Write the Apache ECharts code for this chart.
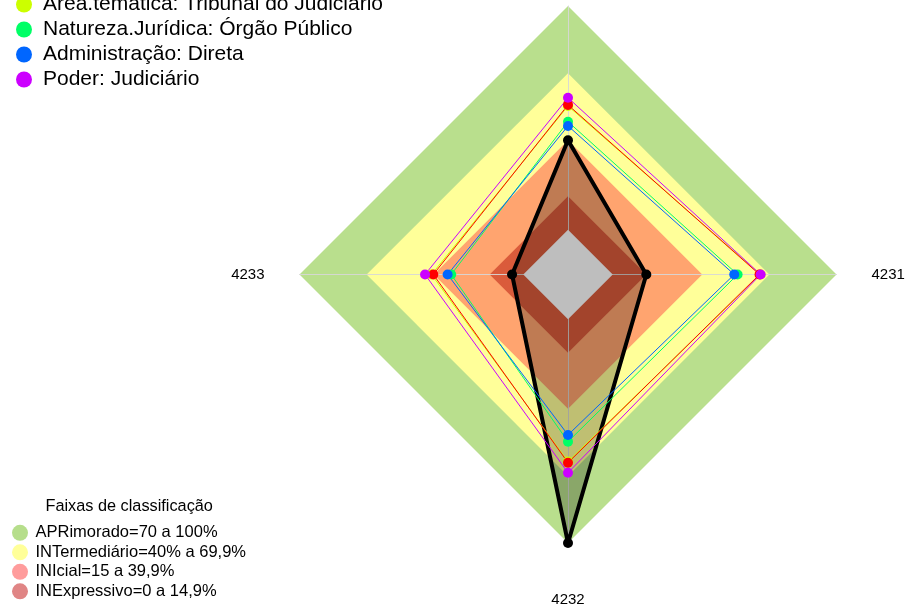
<!DOCTYPE html>
<html><head><meta charset="utf-8">
<script src="https://cdn.jsdelivr.net/npm/echarts@6/dist/echarts.min.js"></script>
<style>html,body{margin:0;padding:0;background:#fff}#c{width:909px;height:607px}</style>
</head><body><div id="c"></div>
<script>
// Indicators, counter-clockwise starting at the top
const indicators = ['4234', '4233', '4232', '4231'];
const axisMin = -20, axisMax = 100;

// Series (values in indicator order: top, left, bottom, right)
const seriesNames = ['Órgão', 'Área.temática: Tribunal do Judiciário', 'Natureza.Jurídica: Órgão Público', 'Administração: Direta', 'Poder: Judiciário'];
const seriesColors = ['#FF0000', '#CCFF00', '#00FF66', '#0066FF', '#CC00FF'];
const redValues    = [55.8, 40.2, 64.1, 65.6];
const areaValues   = [55.3, 41.0, 63.6, 66.0];
const naturValues  = [48.3, 32.2, 54.7, 55.8];
const adminValues  = [46.4, 33.8, 51.7, 54.3];
const poderValues  = [59.0, 43.9, 68.6, 66.1];
const orgaoName = 'Órgão avaliado';
const orgaoValues  = [40, 5, 100, 15];

// Classification bands (upper limit of each band on every axis)
const bandTitle = 'Faixas de classificação';
const bandNames = ['APRimorado=70 a 100%', 'INTermediário=40% a 69,9%', 'INIcial=15 a 39,9%', 'INExpressivo=0 a 14,9%'];
const bandUpper = [100, 70, 40, 15];
const bandFill = ['#B9DF8D', '#FFFF99', '#FFA46F', '#DA5B3B'];
const bandLegend = ['#B6DE8B', '#FFFF99', '#FF9C9C', '#E08585'];
const belowZeroFill = '#BEBEBE';
const zeroLevel = 0;

const FONT = '"Liberation Sans", Arial, sans-serif';
const ind = indicators.map(n => ({ name: n, min: axisMin, max: axisMax }));
const center = [568, 274.5], radius = 268.5;

const valueSeries = [
  { name: seriesNames[1], values: areaValues, color: seriesColors[1] },
  { name: seriesNames[0], values: redValues, color: seriesColors[0] },
  { name: seriesNames[2], values: naturValues, color: seriesColors[2] },
  { name: seriesNames[3], values: adminValues, color: seriesColors[3] },
  { name: seriesNames[4], values: poderValues, color: seriesColors[4] }
];

const series = [];
// classification bands (outer first)
bandNames.forEach((n, i) => series.push({
  type: 'radar', name: n, z: 1, symbol: 'none', silent: true,
  itemStyle: { color: bandLegend[i] },
  lineStyle: { width: 0 },
  areaStyle: { color: bandFill[i], opacity: 1 },
  data: [{ value: indicators.map(() => bandUpper[i]), name: n }]
}));
// main entity
series.push({
  type: 'radar', name: orgaoName, z: 3, symbol: 'circle', symbolSize: 10,
  itemStyle: { color: '#000' },
  lineStyle: { color: '#000', width: 4 },
  areaStyle: { color: 'rgba(0,0,0,0.25)', opacity: 1 },
  data: [{ value: orgaoValues, name: orgaoName }], silent: true
});
valueSeries.forEach(s => series.push({
  type: 'radar', name: s.name, z: 3, symbol: 'circle', symbolSize: 10,
  itemStyle: { color: s.color },
  lineStyle: { color: s.color, width: 1 },
  data: [{ value: s.values, name: s.name }], silent: true
}));
// below-zero centre drawn on top
series.push({
  type: 'radar', name: 'abaixo de zero', z: 3, symbol: 'none',
  lineStyle: { width: 0 },
  areaStyle: { color: belowZeroFill, opacity: 1 },
  data: [{ value: indicators.map(() => zeroLevel) }], silent: true
});

const chart = echarts.init(document.getElementById('c'), null, { renderer: 'canvas' });
chart.setOption({
  backgroundColor: '#fff',
  animation: false,
  textStyle: { fontFamily: FONT },
  title: {
    text: bandTitle, left: 45.5, top: 499, padding: 0,
    textStyle: { fontFamily: FONT, fontSize: 16.3, fontWeight: 'normal', color: '#000' }
  },
  legend: [
    {
      data: seriesNames.slice(1), orient: 'vertical', left: 11, top: -11,
      icon: 'circle', itemWidth: 28, itemHeight: 16, itemGap: 4,
      itemStyle: { borderWidth: 0 },
      textStyle: { fontFamily: FONT, fontSize: 21, lineHeight: 21, color: '#000' },
      selectedMode: false
    },
    {
      data: bandNames, orient: 'vertical', left: 12, top: 524.3, padding: 0,
      icon: 'circle', itemWidth: 21, itemHeight: 16, itemGap: 2.5,
      itemStyle: { borderWidth: 0 },
      textStyle: { fontFamily: FONT, fontSize: 16.5, lineHeight: 16, color: '#000' },
      selectedMode: false
    }
  ],
  radar: [
    {
      center: center, radius: radius, startAngle: 90, shape: 'polygon',
      splitNumber: 4, indicator: ind, nameGap: 35,
      axisName: {
        color: '#000', fontSize: 15, fontFamily: FONT,
        formatter: v => v === '4232' ? '{b|' + v + '}' : v,
        rich: { b: { padding: [14, 0, 0, 0], fontSize: 15, color: '#000', fontFamily: FONT } }
      },
      splitLine: { show: false }, splitArea: { show: false },
      axisLine: { show: false }, axisTick: { show: false }, axisLabel: { show: false }
    },
    {
      center: center, radius: radius, startAngle: 90, shape: 'polygon', z: 2,
      splitNumber: 4, indicator: ind,
      axisName: { show: false },
      splitLine: { show: false }, splitArea: { show: false },
      axisLine: { show: true, lineStyle: { color: 'rgba(215,215,215,0.9)', width: 1 } },
      axisTick: { show: false }, axisLabel: { show: false }
    }
  ],
  series: series
});
</script></body></html>
